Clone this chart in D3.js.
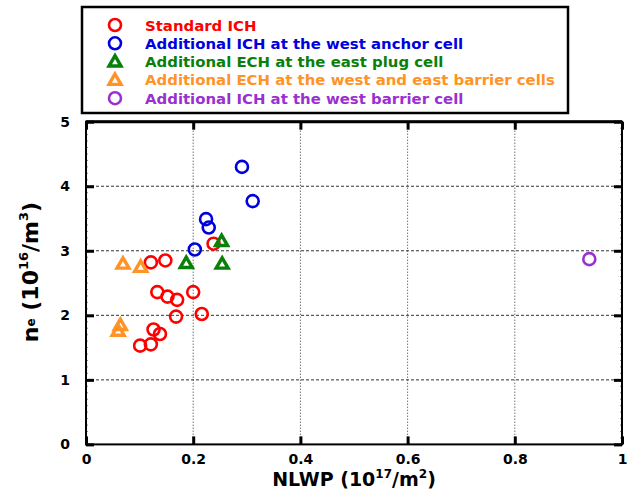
<!DOCTYPE html>
<html>
<head>
<meta charset="utf-8">
<script src="https://cdn.jsdelivr.net/npm/d3@7.9.0/dist/d3.min.js"></script>
<style>
  body { margin: 0; background: #fff; }
  svg { display: block; }
  text { font-family: "DejaVu Sans", sans-serif; font-weight: bold; }
</style>
</head>
<body>
<div id="chart"></div>
<script>
// series data [NLWP, ne]
const standardICH = [
  [0.238, 3.11], [0.121, 2.82], [0.148, 2.85], [0.133, 2.36], [0.152, 2.29],
  [0.170, 2.24], [0.200, 2.36], [0.168, 1.98], [0.216, 2.02], [0.126, 1.78],
  [0.138, 1.71], [0.101, 1.53], [0.121, 1.55]
];
const westAnchorICH = [[0.291, 4.30], [0.311, 3.77], [0.224, 3.49], [0.229, 3.36], [0.203, 3.02]];
const eastPlugECH = [[0.253, 3.15], [0.187, 2.81], [0.254, 2.80]];
const barrierECH = [[0.069, 2.80], [0.102, 2.75], [0.064, 1.85], [0.060, 1.76]];
const westBarrierICH = [[0.939, 2.87]];

const seriesNames = [
  "Standard ICH",
  "Additional ICH at the west anchor cell",
  "Additional ECH at the east plug cell",
  "Additional ECH at the west and east barrier cells",
  "Additional ICH at the west barrier cell"
];
const seriesColors = ["#ff0000", "#0000dd", "#0a800a", "#ff9326", "#9a2fd2"];
const seriesShapes = ["circle", "circle", "triangle", "triangle", "circle"];
const seriesData = [standardICH, westAnchorICH, eastPlugECH, barrierECH, westBarrierICH];

const xTicks = [0, 0.2, 0.4, 0.6, 0.8, 1];
const yTicks = [0, 1, 2, 3, 4, 5];

const width = 628, height = 492;
const plot = { left: 86, right: 622, top: 121.7, bottom: 444.4 };

const svg = d3.select('#chart').append('svg')
  .attr('width', width).attr('height', height);

const x = d3.scaleLinear().domain([0, 1]).range([plot.left, plot.right]);
const y = d3.scaleLinear().domain([0, 5]).range([plot.bottom, plot.top]);

// gridlines
svg.append('g').selectAll('line')
  .data(xTicks.filter(d => d > 0 && d < 1))
  .join('line')
  .attr('x1', d => x(d)).attr('x2', d => x(d))
  .attr('y1', plot.top).attr('y2', plot.bottom)
  .attr('stroke', '#333').attr('stroke-width', 1)
  .attr('stroke-dasharray', '1,2');

svg.append('g').selectAll('line')
  .data(yTicks.filter(d => d > 0 && d < 5))
  .join('line')
  .attr('x1', plot.left).attr('x2', plot.right)
  .attr('y1', d => y(d)).attr('y2', d => y(d))
  .attr('stroke', '#333').attr('stroke-width', 1)
  .attr('stroke-dasharray', '3,2');

// minor ticks on y axes
const yMinor = d3.range(0, 5.001, 0.1);
svg.append('g').selectAll('line')
  .data(yMinor)
  .join('line')
  .attr('x1', plot.left).attr('x2', plot.left + 2)
  .attr('y1', d => y(d)).attr('y2', d => y(d))
  .attr('stroke', '#888').attr('stroke-width', 1);
svg.append('g').selectAll('line')
  .data(yMinor)
  .join('line')
  .attr('x1', plot.right).attr('x2', plot.right - 2)
  .attr('y1', d => y(d)).attr('y2', d => y(d))
  .attr('stroke', '#888').attr('stroke-width', 1);

// axes with inward major ticks
const tickLen = 8;
svg.append('g')
  .attr('transform', `translate(0,${plot.bottom})`)
  .call(d3.axisBottom(x).tickValues(xTicks).tickSize(-tickLen).tickPadding(10).tickFormat(d3.format('~g')))
  .call(g => g.select('.domain').remove());
svg.append('g')
  .attr('transform', `translate(0,${plot.top})`)
  .call(d3.axisTop(x).tickValues(xTicks).tickSize(-tickLen).tickFormat(''))
  .call(g => g.select('.domain').remove());
svg.append('g')
  .attr('transform', `translate(${plot.left},0)`)
  .call(d3.axisLeft(y).tickValues(yTicks).tickSize(-tickLen).tickPadding(16).tickFormat(d3.format('d')))
  .call(g => g.select('.domain').remove());
svg.append('g')
  .attr('transform', `translate(${plot.right},0)`)
  .call(d3.axisRight(y).tickValues(yTicks).tickSize(-tickLen).tickFormat(''))
  .call(g => g.select('.domain').remove());

svg.selectAll('.tick line').attr('stroke', '#000').attr('stroke-width', 3);
svg.selectAll('.tick text')
  .attr('fill', '#000')
  .style('font-size', '14px')
  .style('font-weight', 'bold')
  .style('font-family', '"DejaVu Sans", sans-serif');

// frame
svg.append('rect')
  .attr('x', plot.left).attr('y', plot.top)
  .attr('width', plot.right - plot.left).attr('height', plot.bottom - plot.top)
  .attr('fill', 'none').attr('stroke', '#000').attr('stroke-width', 2);
svg.append('line')
  .attr('x1', plot.left).attr('x2', plot.right)
  .attr('y1', plot.top).attr('y2', plot.top)
  .attr('stroke', '#000').attr('stroke-width', 3);

// markers
const triangle = d3.symbol().type(d3.symbolTriangle).size(62);
function drawMarker(g, shape, color) {
  if (shape === 'circle') {
    g.append('circle').attr('r', 6)
      .attr('fill', 'none').attr('stroke', color).attr('stroke-width', 2.6);
  } else {
    g.append('path').attr('d', triangle).attr('transform', 'translate(0,1)')
      .attr('fill', 'none').attr('stroke', color).attr('stroke-width', 3.4)
      .attr('stroke-linejoin', 'miter');
  }
}

seriesData.forEach((data, i) => {
  svg.append('g').selectAll('g')
    .data(data)
    .join('g')
    .attr('transform', d => `translate(${x(d[0])},${y(d[1])})`)
    .each(function () { drawMarker(d3.select(this), seriesShapes[i], seriesColors[i]); });
});

// axis titles
const xt = svg.append('text')
  .attr('x', (plot.left + plot.right) / 2).attr('y', 486)
  .attr('text-anchor', 'middle')
  .style('font-size', '19px');
xt.append('tspan').text('NLWP (10');
xt.append('tspan').attr('dy', -8).style('font-size', '12px').text('17');
xt.append('tspan').attr('dy', 8).text('/m');
xt.append('tspan').attr('dy', -8).style('font-size', '12px').text('2');
xt.append('tspan').attr('dy', 8).text(')');

const yt = svg.append('text')
  .attr('transform', 'translate(38,272) rotate(-90)')
  .attr('text-anchor', 'middle')
  .style('font-size', '22px');
yt.append('tspan').text('n');
yt.append('tspan').attr('dy', -3).style('font-size', '12px').text('e');
yt.append('tspan').attr('dy', 3).text(' (10');
yt.append('tspan').attr('dy', -10).style('font-size', '13px').text('16');
yt.append('tspan').attr('dy', 10).text('/m');
yt.append('tspan').attr('dy', -10).style('font-size', '13px').text('3');
yt.append('tspan').attr('dy', 10).text(')');

// legend
const legend = svg.append('g');
legend.append('rect')
  .attr('x', 82).attr('y', 7).attr('width', 486).attr('height', 106)
  .attr('fill', '#fff').attr('stroke', '#000').attr('stroke-width', 2.5);
const labels = [];
seriesNames.forEach((name, i) => {
  const row = legend.append('g').attr('transform', `translate(0,${25 + i * 18.3})`);
  const m = row.append('g').attr('transform', 'translate(115,0)');
  drawMarker(m, seriesShapes[i], seriesColors[i]);
  labels.push(row.append('text')
    .attr('x', 145).attr('y', 5.5)
    .attr('fill', seriesColors[i])
    .style('font-size', '14px')
    .text(name));
});
// fit the longest legend line to the reference width
const longest = d3.max(labels, t => t.node().getComputedTextLength());
const fs = 14 * 410 / longest;
labels.forEach(t => t.style('font-size', `${fs.toFixed(2)}px`));
</script>
</body>
</html>
